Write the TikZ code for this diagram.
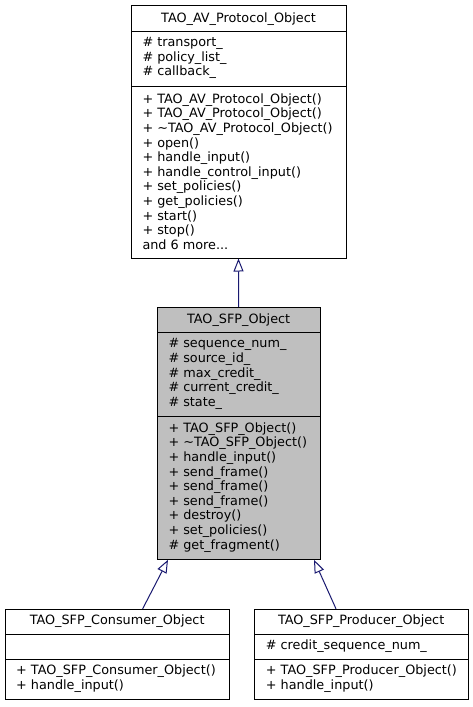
\documentclass[tikz,border=0pt]{standalone}
\usepackage{fontspec}
\setmainfont{DejaVu Sans}
\usetikzlibrary{arrows.meta}
\definecolor{edgeblue}{HTML}{191970}
\definecolor{boxgray}{HTML}{BFBFBF}
\begin{document}
\begin{tikzpicture}[x=1pt,y=-1pt,
  classbox/.style={draw=black, line width=1pt, inner sep=0pt, fill=white},
  sepline/.style={draw=black, line width=1pt},
  txt/.style={inner sep=0pt, align=left, anchor=west, font=\fontsize{12.8}{14.6}\selectfont},
  ttl/.style={inner sep=0pt, font=\fontsize{12.8}{14.6}\selectfont},
  inherit/.style={draw=edgeblue, line width=1pt, -{Triangle[open, length=13pt, width=10pt]}}]
\useasboundingbox (0,0) rectangle (473,707);

% TAO_AV_Protocol_Object
\node[classbox, minimum width=215pt, minimum height=252.5pt] (av) at (238.5,131.75) {};
\draw[sepline] (131,31.7) -- (346,31.7);
\draw[sepline] (131,86) -- (346,86);
\node[ttl] (avtitle) at (238.5,18.8) {TAO\_AV\_Protocol\_Object};
\node[txt] (avattr) at (142.3,58.3) {\# transport\_\\\# policy\_list\_\\\# callback\_};
\node[txt] (avmeth) at (142.3,171.5) {+ TAO\_AV\_Protocol\_Object()\\+ TAO\_AV\_Protocol\_Object()\\+ \textasciitilde TAO\_AV\_Protocol\_Object()\\+ open()\\+ handle\_input()\\+ handle\_control\_input()\\+ set\_policies()\\+ get\_policies()\\+ start()\\+ stop()\\and 6 more...};

% TAO_SFP_Object
\node[classbox, fill=boxgray, minimum width=162.7pt, minimum height=252pt] (sfp) at (238.65,433.3) {};
\draw[sepline] (157.3,332.5) -- (320,332.5);
\draw[sepline] (157.3,416.6) -- (320,416.6);
\node[ttl] (sfptitle) at (238.65,319.9) {TAO\_SFP\_Object};
\node[txt] (sfpattr) at (168.3,374) {\# sequence\_num\_\\\# source\_id\_\\\# max\_credit\_\\\# current\_credit\_\\\# state\_};
\node[txt] (sfpmeth) at (168.3,487.3) {+ TAO\_SFP\_Object()\\+ \textasciitilde TAO\_SFP\_Object()\\+ handle\_input()\\+ send\_frame()\\+ send\_frame()\\+ send\_frame()\\+ destroy()\\+ set\_policies()\\\# get\_fragment()};

% TAO_SFP_Consumer_Object
\node[classbox, minimum width=224.3pt, minimum height=89.7pt] (cons) at (117.15,654.15) {};
\draw[sepline] (5,634) -- (229.3,634);
\draw[sepline] (5,659.3) -- (229.3,659.3);
\node[ttl] (constitle) at (117.15,621.6) {TAO\_SFP\_Consumer\_Object};
\node[txt] (consmeth) at (16,678.8) {+ TAO\_SFP\_Consumer\_Object()\\+ handle\_input()};

% TAO_SFP_Producer_Object
\node[classbox, minimum width=214.3pt, minimum height=89.7pt] (prod) at (361.15,654.15) {};
\draw[sepline] (254,634) -- (468.3,634);
\draw[sepline] (254,659.3) -- (468.3,659.3);
\node[ttl] (prodtitle) at (361.15,621.6) {TAO\_SFP\_Producer\_Object};
\node[txt] (prodattr) at (265.7,646.6) {\# credit\_sequence\_num\_};
\node[txt] (prodmeth) at (265.7,678.8) {+ TAO\_SFP\_Producer\_Object()\\+ handle\_input()};

% inheritance
\draw[inherit] (sfp.north) -- (av.south);
\draw[inherit] ([xshift=25.5pt]cons.north) -- ([xshift=-70.65pt]sfp.south);
\draw[inherit] ([xshift=-25.15pt]prod.north) -- ([xshift=75.35pt]sfp.south);
\end{tikzpicture}
\end{document}
